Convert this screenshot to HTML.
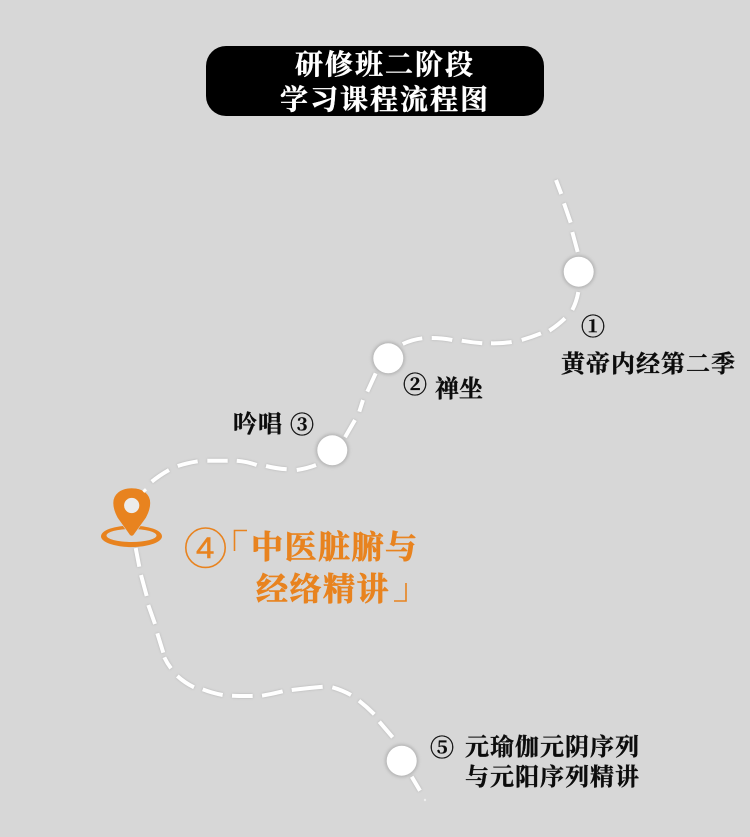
<!DOCTYPE html>
<html lang="zh"><head><meta charset="utf-8"><style>
html,body{margin:0;padding:0;background:#d7d7d7}
svg{display:block}
text{font-family:"Liberation Serif","Noto Serif CJK SC",serif;font-weight:700}
.k{fill:#0c0c0c;stroke:#0c0c0c;stroke-width:.35px;font-size:24px;letter-spacing:1px}
.o{fill:#e8831f;stroke:#e8831f;stroke-width:.7px;font-size:32px;letter-spacing:1.5px}
.w{fill:#fff;stroke:#fff;stroke-width:.4px;font-size:28px;letter-spacing:2px}
</style></head><body>
<svg width="750" height="837" viewBox="0 0 750 837" xmlns="http://www.w3.org/2000/svg">
<defs><filter id="s" x="-40%" y="-40%" width="180%" height="180%"><feGaussianBlur stdDeviation="1.5"/></filter></defs>
<rect width="750" height="837" fill="#d7d7d7"/>
<rect x="206" y="46" width="338" height="70" rx="20" fill="#000"/>
<text class="w" x="295" y="74">研修班二阶段</text>
<text class="w" x="280" y="109">学习课程流程图</text>
<g fill="none" stroke="#fff" stroke-width="4" style="filter:drop-shadow(0 0 1px #b0b0b0)">
<path d="M556 180L561.3 194M564 203.3L570.7 222.7M572.3 232L577.7 252"/>
<path d="M578.3 292Q576.5 302 572.3 310M565 318.3Q558 325 549.3 330.7M541 333.3Q532 337 521.7 340M511.7 342Q502 343.5 491 343.3M482.3 343.3Q472 342.5 461.7 340.7M452.3 340Q442 338 431.7 338M422.3 338.3Q412 339.5 402.7 344"/>
<path d="M375.7 373.3L367.3 391.7M363 400L359.3 411.7M355 420L345 437.3"/>
<path d="M316 465Q307 468.5 296.7 470M286.7 469.3Q276 468.5 266 466M256.7 465Q247 461.5 236.7 460.7M227.7 460.7H207.3M197.7 461.3Q187 463 177.7 466M169 470Q160 475 151.7 481.7"/>
<path d="M135.7 548L139.3 566.7M141 575L146.7 596M148.3 605L155 624M157.3 633.3L163.3 652.7M164.3 657.3Q167 663 171 668.3M177.3 676Q185 683 194 687.3M202.7 689.3Q212 693 222.7 695M232 695.7Q242 696.2 252.7 696M262 695.7Q272 694 282.7 691.3M291.7 690Q307 688 322.7 686.7M332.3 687.3Q342 690 351 695M359 700.7Q367 707 374.3 714.3M379.3 721.7L392.7 737.3M411.7 776.7L420 790.7"/>
</g>
<circle cx="425" cy="800" r="1.2" fill="#eee"/>
<g fill="#999" opacity=".6" filter="url(#s)">
<circle cx="578.7" cy="271.7" r="16.5"/><circle cx="388.3" cy="358.3" r="16.5"/><circle cx="332.3" cy="450.3" r="16.5"/><circle cx="401.7" cy="760.7" r="16.5"/>
</g>
<g fill="#fff">
<circle cx="578.7" cy="271.7" r="15"/><circle cx="388.3" cy="358.3" r="15"/><circle cx="332.3" cy="450.3" r="15"/><circle cx="401.7" cy="760.7" r="15"/>
</g>
<path fill-rule="evenodd" fill="#e8831f" d="M101 536.3A30.5 10.8 0 1 0 162 536.3A30.5 10.8 0 1 0 101 536.3ZM106.5 535.5A25 6.5 0 1 1 156.5 535.5A25 6.5 0 1 1 106.5 535.5Z"/>
<path d="M131.7 536Q130 536 128.6 533.5L117.5 518C114.5 512.5 113 508 113 503C113 494 120.5 488 131.7 488C143 488 150.5 494 150.5 503C150.5 508 149 512.5 146 518L134.8 533.5Q133.4 536 131.7 536Z" fill="#e8831f" stroke="#d7d7d7" stroke-width=".6"/>
<circle cx="131.7" cy="505.5" r="7.6" fill="#ececec"/>
<path d="M146 489.3L143.3 491.7" stroke="#fff" stroke-width="3" fill="none"/>
<text class="k" x="581" y="335">①</text>
<text class="k" x="561" y="372">黄帝内经第二季</text>
<text class="k" x="403" y="393">②</text>
<text class="k" x="435" y="397" style="letter-spacing:0">禅坐</text>
<text class="k" x="233" y="432" style="letter-spacing:1px">吟唱</text>
<text class="k" x="290" y="433">③</text>
<text class="k" x="430" y="756">⑤</text>
<text class="k" x="465" y="755">元瑜伽元阴序列</text>
<text class="k" x="465" y="785">与元阳序列精讲</text>
<circle cx="205.5" cy="547.7" r="19.7" fill="none" stroke="#e8831f" stroke-width="1.6"/>
<text transform="translate(205.2 558) scale(1.1 1)" text-anchor="middle" style="font-family:'Liberation Sans',sans-serif;font-size:30px;font-weight:400;fill:#e8831f;stroke:#e8831f;stroke-width:.5px">4</text>
<path d="M247 530.5H234.5V551" fill="none" stroke="#e8831f" stroke-width="1.6"/>
<text class="o" x="251" y="558">中医脏腑与</text>
<text class="o" x="256" y="600">经络精讲</text>
<path d="M394 601H406V583" fill="none" stroke="#e8831f" stroke-width="1.6"/>
</svg>
</body></html>
